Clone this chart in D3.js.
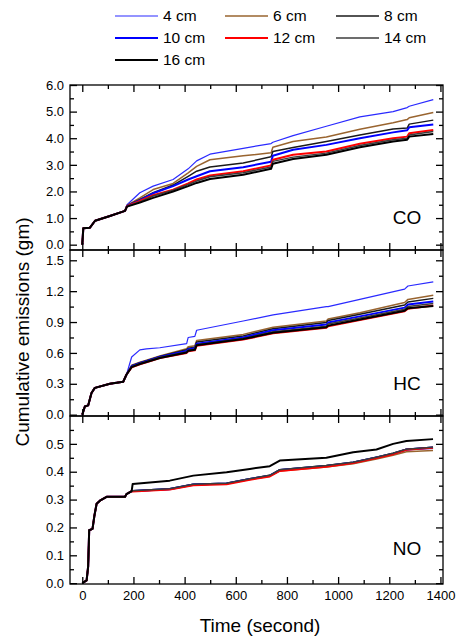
<!DOCTYPE html>
<html>
	<head>
		<title>Cumulative emissions</title>
		<style>
* {
	margin: 0;
	padding: 0;
}
html,
body {
	background-color: #fff;
	width: 456px;
	height: 636px;
	overflow: hidden;
}
svg {
	display: block;
	font-family: "Liberation Sans", Arial, sans-serif;
}
.axis path {
	display: none;
}
.axis line {
	stroke: #000;
	stroke-width: 1.3px;
}
.axis text {
	fill: #000;
	font-size: 13px;
}
		</style>
	</head>
	<body>
		<div id="chart"></div>
		<script src="https://cdn.jsdelivr.net/npm/d3@7"></script>
		<script>

// series labels, one per line
var seriesNames = [ '4 cm', '6 cm', '8 cm', '10 cm', '12 cm', '14 cm', '16 cm' ];
var seriesColors = [ '#2a2aff', '#99642f', '#1a1a1a', '#0000ff', '#ff0000', '#3c3c3c', '#000000' ];
var seriesWidths = [ 1.2, 1.5, 1.5, 2, 2, 1.5, 2 ];

// CO panel (gm), time in seconds
var coTimes = [ 0, 4, 30, 50, 108, 167, 175, 225, 277, 355, 414, 447, 499, 629, 738, 745, 824, 954, 1085, 1215, 1270, 1278, 1372 ];
var coValues = [
	[ 0, 0.62, 0.64, 0.9, 1.08, 1.27, 1.5, 1.95, 2.2, 2.45, 2.85, 3.15, 3.4, 3.62, 3.8, 3.85, 4.1, 4.45, 4.8, 5.0, 5.15, 5.2, 5.45 ],
	[ 0, 0.62, 0.64, 0.9, 1.08, 1.27, 1.48, 1.76, 2.07, 2.3, 2.7, 2.94, 3.19, 3.34, 3.45, 3.66, 3.88, 4.05, 4.34, 4.58, 4.7, 4.77, 4.97 ],
	[ 0, 0.62, 0.64, 0.9, 1.08, 1.27, 1.47, 1.7, 1.95, 2.24, 2.57, 2.76, 2.92, 3.07, 3.3, 3.5, 3.65, 3.88, 4.12, 4.35, 4.38, 4.53, 4.68 ],
	[ 0, 0.62, 0.64, 0.9, 1.08, 1.27, 1.46, 1.66, 1.93, 2.2, 2.45, 2.57, 2.76, 2.91, 3.12, 3.34, 3.57, 3.75, 4.0, 4.22, 4.3, 4.41, 4.52 ],
	[ 0, 0.62, 0.64, 0.9, 1.08, 1.27, 1.45, 1.64, 1.86, 2.07, 2.3, 2.45, 2.6, 2.76, 2.98, 3.19, 3.38, 3.5, 3.79, 4.0, 4.06, 4.19, 4.31 ],
	[ 0, 0.62, 0.64, 0.9, 1.08, 1.27, 1.44, 1.61, 1.83, 2.05, 2.26, 2.39, 2.55, 2.7, 2.92, 3.13, 3.29, 3.44, 3.73, 3.94, 4.0, 4.12, 4.25 ],
	[ 0, 0.62, 0.64, 0.9, 1.08, 1.27, 1.43, 1.58, 1.76, 2.0, 2.2, 2.32, 2.47, 2.63, 2.85, 3.04, 3.22, 3.38, 3.66, 3.88, 3.94, 4.06, 4.16 ]
];

// HC panel
var hcTimes = [ 0, 10, 23, 36, 49, 108, 160, 173, 193, 225, 251, 303, 408, 414, 440, 447, 629, 746, 954, 961, 1085, 1260, 1273, 1372 ];
var hcValues = [
	[ 0, 0.08, 0.09, 0.21, 0.26, 0.3, 0.32, 0.39, 0.56, 0.63, 0.64, 0.65, 0.69, 0.75, 0.76, 0.82, 0.91, 0.97, 1.05, 1.05, 1.12, 1.22, 1.25, 1.29 ],
	[ 0, 0.08, 0.09, 0.21, 0.26, 0.3, 0.32, 0.39, 0.48, 0.51, 0.53, 0.57, 0.64, 0.66, 0.67, 0.72, 0.78, 0.85, 0.91, 0.93, 0.99, 1.09, 1.12, 1.16 ],
	[ 0, 0.08, 0.09, 0.21, 0.26, 0.3, 0.32, 0.39, 0.475, 0.505, 0.525, 0.565, 0.63, 0.645, 0.655, 0.705, 0.765, 0.835, 0.895, 0.915, 0.975, 1.065, 1.095, 1.13 ],
	[ 0, 0.08, 0.09, 0.21, 0.26, 0.3, 0.32, 0.39, 0.47, 0.5, 0.52, 0.56, 0.62, 0.635, 0.645, 0.69, 0.75, 0.82, 0.875, 0.895, 0.955, 1.04, 1.07, 1.1 ],
	[ 0, 0.08, 0.09, 0.21, 0.26, 0.3, 0.32, 0.39, 0.46, 0.49, 0.51, 0.55, 0.6, 0.615, 0.625, 0.67, 0.73, 0.79, 0.845, 0.86, 0.92, 1.005, 1.03, 1.06 ],
	[ 0, 0.08, 0.09, 0.21, 0.26, 0.3, 0.32, 0.39, 0.465, 0.495, 0.515, 0.555, 0.61, 0.625, 0.635, 0.68, 0.74, 0.805, 0.86, 0.88, 0.94, 1.025, 1.05, 1.08 ],
	[ 0, 0.08, 0.09, 0.21, 0.26, 0.3, 0.32, 0.39, 0.462, 0.492, 0.512, 0.55, 0.605, 0.62, 0.63, 0.675, 0.735, 0.795, 0.85, 0.865, 0.925, 1.01, 1.035, 1.055 ]
];

// NO panel
var noTimes = [ 0, 17, 23, 27, 40, 47, 56, 69, 95, 167, 173, 193, 197, 342, 434, 564, 655, 733, 772, 954, 1059, 1150, 1215, 1267, 1371 ];
var noValues = [
	[ 0, 0.01, 0.06, 0.19, 0.195, 0.24, 0.285, 0.296, 0.31, 0.31, 0.32, 0.33, 0.329, 0.336, 0.352, 0.356, 0.372, 0.384, 0.404, 0.419, 0.431, 0.449, 0.463, 0.478, 0.484 ],
	[ 0, 0.01, 0.06, 0.19, 0.195, 0.24, 0.285, 0.296, 0.31, 0.31, 0.32, 0.33, 0.33, 0.337, 0.353, 0.357, 0.372, 0.384, 0.403, 0.417, 0.429, 0.446, 0.459, 0.472, 0.476 ],
	[ 0, 0.01, 0.06, 0.19, 0.195, 0.24, 0.285, 0.296, 0.31, 0.31, 0.32, 0.33, 0.332, 0.339, 0.355, 0.359, 0.375, 0.387, 0.407, 0.422, 0.434, 0.452, 0.466, 0.481, 0.488 ],
	[ 0, 0.01, 0.06, 0.19, 0.195, 0.24, 0.285, 0.296, 0.31, 0.31, 0.32, 0.33, 0.331, 0.338, 0.354, 0.358, 0.374, 0.386, 0.406, 0.421, 0.433, 0.451, 0.465, 0.48, 0.487 ],
	[ 0, 0.01, 0.06, 0.19, 0.195, 0.24, 0.285, 0.296, 0.31, 0.31, 0.32, 0.33, 0.329, 0.336, 0.351, 0.355, 0.371, 0.383, 0.403, 0.418, 0.431, 0.449, 0.463, 0.479, 0.486 ],
	[ 0, 0.01, 0.06, 0.19, 0.195, 0.24, 0.285, 0.296, 0.31, 0.31, 0.32, 0.33, 0.332, 0.339, 0.355, 0.359, 0.375, 0.387, 0.407, 0.422, 0.434, 0.452, 0.466, 0.481, 0.488 ],
	[ 0, 0.01, 0.06, 0.19, 0.195, 0.24, 0.285, 0.296, 0.31, 0.31, 0.32, 0.33, 0.356, 0.368, 0.386, 0.398, 0.41, 0.42, 0.44, 0.45, 0.47, 0.48, 0.5, 0.51, 0.517 ]
];

// axis ticks
var xTicks = [ 0, 200, 400, 600, 800, 1000, 1200, 1400 ];
var xMinorTicks = [ 100, 300, 500, 700, 900, 1100, 1300 ];
var coTicks = [ 0, 1, 2, 3, 4, 5, 6 ];
var coMinorTicks = [ 0.5, 1.5, 2.5, 3.5, 4.5, 5.5 ];
var hcTicks = [ 0, 0.3, 0.6, 0.9, 1.2, 1.5 ];
var hcMinorTicks = [ 0.15, 0.45, 0.75, 1.05, 1.35 ];
var noTicks = [ 0, 0.1, 0.2, 0.3, 0.4, 0.5 ];
var noMinorTicks = [ 0.05, 0.15, 0.25, 0.35, 0.45, 0.55 ];

var width = 456;
var height = 636;
var left = 70;
var right = 443;

var panels = [
	{ name: 'CO', times: coTimes, values: coValues, ticks: coTicks, minor: coMinorTicks, domain: [ -0.2, 6.0 ], top: 85, bottom: 250, labelY: 217 },
	{ name: 'HC', times: hcTimes, values: hcValues, ticks: hcTicks, minor: hcMinorTicks, domain: [ -0.013, 1.6 ], top: 250, bottom: 416, labelY: 383 },
	{ name: 'NO', times: noTimes, values: noValues, ticks: noTicks, minor: noMinorTicks, domain: [ -0.003, 0.6 ], top: 416, bottom: 584, labelY: 548 }
];

var svg = d3.select( '#chart' ).append( 'svg' )
	.attr( 'width', width )
	.attr( 'height', height );

var x = d3.scaleLinear().domain( [ -48, 1410 ] ).range( [ left, right ] );

panels.forEach( function ( p, pi ) {

	var y = d3.scaleLinear().domain( p.domain ).range( [ p.bottom, p.top ] );
	var g = svg.append( 'g' );

	var line = d3.line()
		.x( function ( d ) { return x( d[0] ); } )
		.y( function ( d ) { return y( d[1] ); } );

	p.values.forEach( function ( vals, si ) {
		var pts = p.times.map( function ( t, i ) { return [ t, vals[i] ]; } );
		g.append( 'path' )
			.datum( pts )
			.attr( 'd', line )
			.style( 'fill', 'none' )
			.style( 'stroke', seriesColors[si] )
			.style( 'stroke-width', seriesWidths[si] )
			.style( 'stroke-linejoin', 'round' );
	} );

	// left axis, ticks inward
	g.append( 'g' ).attr( 'class', 'axis' )
		.attr( 'transform', 'translate(' + left + ',0)' )
		.call( d3.axisLeft( y ).tickValues( p.ticks ).tickSize( -7 ).tickPadding( 6 ).tickFormat( d3.format( '.1f' ) ) );
	g.append( 'g' ).attr( 'class', 'axis' )
		.attr( 'transform', 'translate(' + left + ',0)' )
		.call( d3.axisLeft( y ).tickValues( p.minor ).tickSize( -4 ).tickFormat( '' ) );

	// right axis
	g.append( 'g' ).attr( 'class', 'axis' )
		.attr( 'transform', 'translate(' + right + ',0)' )
		.call( d3.axisRight( y ).tickValues( p.ticks ).tickSize( -7 ).tickFormat( '' ) );
	g.append( 'g' ).attr( 'class', 'axis' )
		.attr( 'transform', 'translate(' + right + ',0)' )
		.call( d3.axisRight( y ).tickValues( p.minor ).tickSize( -4 ).tickFormat( '' ) );

	// top and bottom x ticks
	g.append( 'g' ).attr( 'class', 'axis' )
		.attr( 'transform', 'translate(0,' + p.top + ')' )
		.call( d3.axisTop( x ).tickValues( xTicks ).tickSize( -7 ).tickFormat( '' ) );
	g.append( 'g' ).attr( 'class', 'axis' )
		.attr( 'transform', 'translate(0,' + p.top + ')' )
		.call( d3.axisTop( x ).tickValues( xMinorTicks ).tickSize( -4 ).tickFormat( '' ) );
	g.append( 'g' ).attr( 'class', 'axis' )
		.attr( 'transform', 'translate(0,' + p.bottom + ')' )
		.call( d3.axisBottom( x ).tickValues( xTicks ).tickSize( -7 ).tickPadding( 7 )
			.tickFormat( pi === panels.length - 1 ? d3.format( 'd' ) : '' ) );
	g.append( 'g' ).attr( 'class', 'axis' )
		.attr( 'transform', 'translate(0,' + p.bottom + ')' )
		.call( d3.axisBottom( x ).tickValues( xMinorTicks ).tickSize( -4 ).tickFormat( '' ) );

	g.append( 'rect' )
		.attr( 'x', left )
		.attr( 'y', p.top )
		.attr( 'width', right - left )
		.attr( 'height', p.bottom - p.top )
		.style( 'fill', 'none' )
		.style( 'stroke', '#000' )
		.style( 'stroke-width', 1.3 );

	g.append( 'text' )
		.attr( 'x', 407 )
		.attr( 'y', p.labelY )
		.attr( 'dy', '0.35em' )
		.attr( 'text-anchor', 'middle' )
		.style( 'font-size', '19px' )
		.text( p.name );

} );

// axis titles
svg.append( 'text' )
	.attr( 'x', 260 )
	.attr( 'y', 632 )
	.attr( 'text-anchor', 'middle' )
	.style( 'font-size', '19px' )
	.text( 'Time (second)' );

svg.append( 'text' )
	.attr( 'transform', 'translate(29,332) rotate(-90)' )
	.attr( 'text-anchor', 'middle' )
	.style( 'font-size', '19px' )
	.text( 'Cumulative emissions (gm)' );

// legend
var legendX = [ 115, 225, 336 ];
var legend = svg.selectAll( 'g.legend' )
	.data( seriesNames )
	.enter()
	.append( 'g' )
	.attr( 'class', 'legend' )
	.attr( 'transform', function ( d, i ) {
		return 'translate(' + legendX[i % 3] + ',' + ( 16 + Math.floor( i / 3 ) * 22 ) + ')';
	} );

legend.append( 'line' )
	.attr( 'x1', 0 )
	.attr( 'x2', 43 )
	.style( 'stroke', function ( d, i ) { return seriesColors[i]; } )
	.style( 'stroke-width', function ( d, i ) { return seriesWidths[i]; } );

legend.append( 'text' )
	.attr( 'x', 48 )
	.attr( 'dy', '0.35em' )
	.style( 'font-size', '15.5px' )
	.text( function ( d ) { return d; } );

		</script>
	</body>
</html>
